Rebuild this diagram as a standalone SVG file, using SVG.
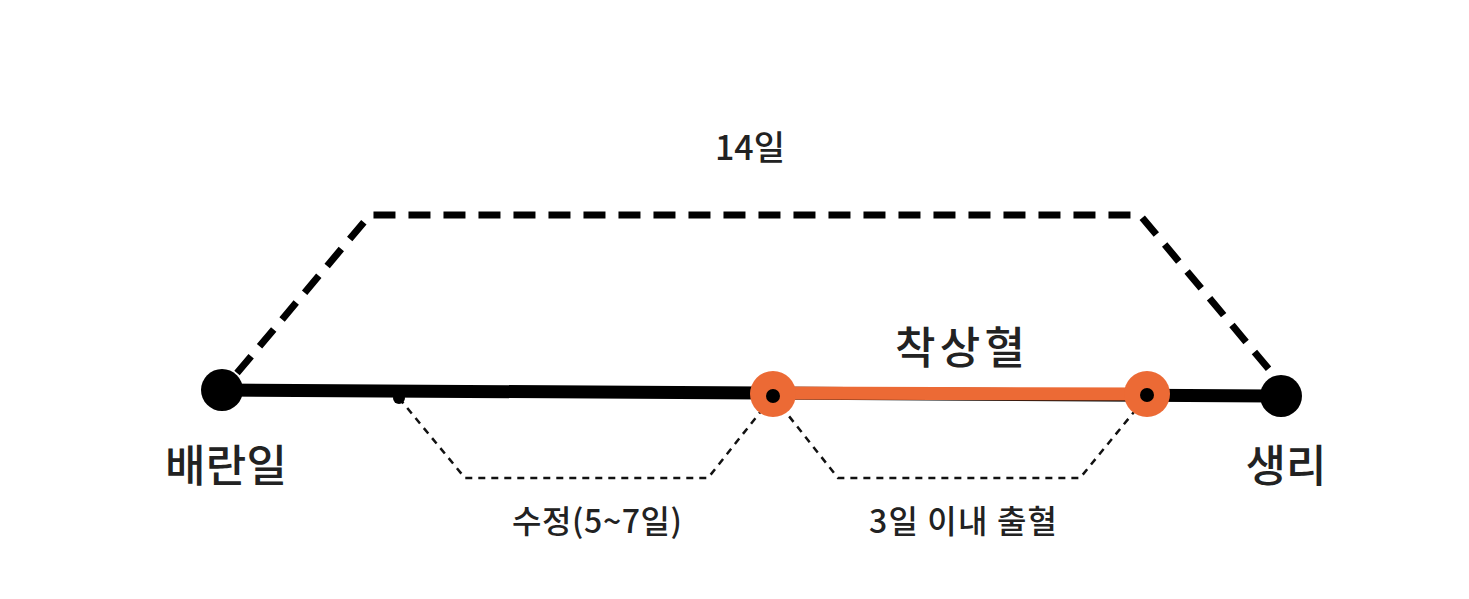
<svg xmlns="http://www.w3.org/2000/svg" width="1469" height="599" viewBox="0 0 1469 599">
<style>
text{font-family:"Noto Sans CJK KR","Noto Sans",sans-serif;fill:#222;text-anchor:middle;font-weight:500}
.thin{fill:none;stroke:#111;stroke-width:2.5;stroke-dasharray:7 6}
</style>
<rect width="1469" height="599" fill="#fff"/>
<g id="connectors">
<path d="M237,373 L370,215 L1140,215 L1272,373" fill="none" stroke="#000" stroke-width="7" stroke-dasharray="22 13"/>
<path d="M222,390 L1280,396" stroke="#000" stroke-width="13"/>
<path d="M773,393 L1147,394" stroke="#ec6a35" stroke-width="13"/>
<path class="thin" d="M399,398 L465,478 L708,478 L773,396"/>
<path class="thin" d="M773,396 L838,478 L1080,478 L1147,396"/>
</g>
<g id="ovulation"><circle cx="222" cy="390" r="21" fill="#000"/><text x="226" y="482" font-size="44" textLength="122">배란일</text></g>
<g id="period"><circle cx="1281" cy="396" r="21" fill="#000"/><text x="1286" y="482" font-size="44">생리</text></g>
<g id="fert"><circle cx="399" cy="398" r="6" fill="#000"/><text x="597" y="533" font-size="32" textLength="170">수정(5~7일)</text></g>
<g id="implant1"><circle cx="773" cy="394" r="23" fill="#ec6a35"/><circle cx="773" cy="396" r="7" fill="#000"/></g>
<g id="implant2"><circle cx="1147" cy="394" r="23" fill="#ec6a35"/><circle cx="1147" cy="395" r="7" fill="#000"/></g>
<text x="960" y="364" font-size="44" textLength="130">착상혈</text>
<text x="750" y="160" font-size="34" textLength="70">14일</text>
<text x="963" y="533" font-size="32" textLength="188">3일 이내 출혈</text>
</svg>
